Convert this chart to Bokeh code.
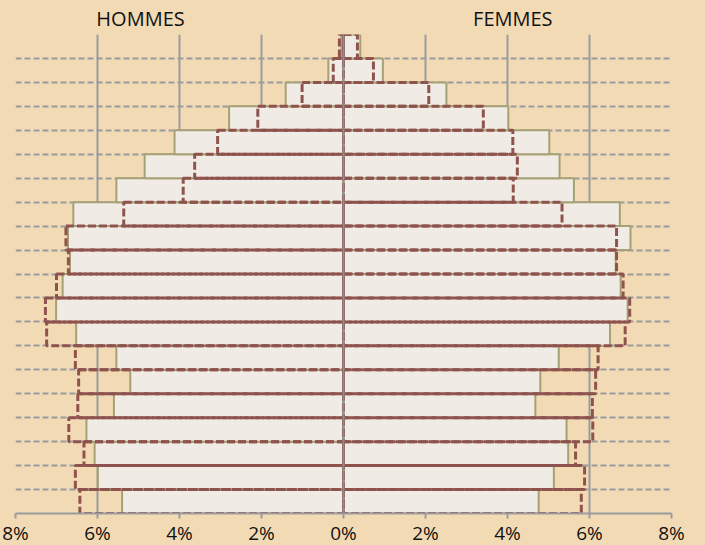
from bokeh.plotting import figure
from bokeh.models import ColumnDataSource, FixedTicker, Span, LinearAxis
from bokeh.embed import file_html
from bokeh.resources import INLINE

# Age groups, bottom (youngest) to top (oldest)
ages = ["0-4", "5-9", "10-14", "15-19", "20-24", "25-29", "30-34", "35-39",
        "40-44", "45-49", "50-54", "55-59", "60-64", "65-69", "70-74",
        "75-79", "80-84", "85-89", "90-94", "95-99"]

# Filled series (percent of population)
hommes_a = [5.40, 5.99, 6.07, 6.27, 5.60, 5.20, 5.54, 6.52, 7.01, 6.85,
            6.67, 6.72, 6.59, 5.54, 4.85, 4.12, 2.79, 1.41, 0.37, 0.05]
femmes_a = [4.76, 5.13, 5.48, 5.44, 4.68, 4.80, 5.25, 6.50, 6.93, 6.76,
            6.64, 7.00, 6.74, 5.62, 5.27, 5.02, 4.02, 2.51, 0.96, 0.41]

# Dashed-outline series (percent of population)
hommes_b = [6.43, 6.54, 6.33, 6.70, 6.48, 6.46, 6.54, 7.24, 7.27, 7.00,
            6.71, 6.77, 5.36, 3.91, 3.63, 3.07, 2.09, 1.01, 0.25, 0.10]
femmes_b = [5.80, 5.88, 5.66, 6.08, 6.07, 6.15, 6.21, 6.87, 6.98, 6.82,
            6.66, 6.66, 5.33, 4.14, 4.24, 4.13, 3.41, 2.08, 0.73, 0.34]

tick_values = [-8, -6, -4, -2, 0, 2, 4, 6, 8]
tick_labels = ["8%", "6%", "4%", "2%", "0%", "2%", "4%", "6%", "8%"]

side_titles = ["HOMMES", "FEMMES"]
side_title_pos = [-4.95, 4.13]

BG = "#F2DBB4"
FILL = "#F0ECE5"
OLIVE = "#A6A174"
BROWN = "#8F534E"
GRID = "#9A9A9F"

ypos = [i + 0.5 for i in range(len(ages))]
src = ColumnDataSource(dict(
    y=ypos,
    ha_left=[-v for v in hommes_a], fa_right=femmes_a,
    hb_left=[-v for v in hommes_b], fb_right=femmes_b,
    zero=[0] * len(ages),
))

p = figure(frame_width=656, frame_height=479, x_range=(-8, 8), y_range=(0, len(ages)),
           output_backend="svg", toolbar_location=None,
           min_border_left=15, min_border_right=34, min_border_top=34, min_border_bottom=0)
p.background_fill_color = BG
p.border_fill_color = BG
p.outline_line_color = None

# grids
p.xgrid.ticker = FixedTicker(ticks=tick_values)
p.xgrid.grid_line_color = GRID
p.xgrid.grid_line_width = 2
p.ygrid.ticker = FixedTicker(ticks=list(range(len(ages) + 1)))
p.ygrid.grid_line_color = GRID
p.ygrid.grid_line_width = 2
p.ygrid.grid_line_dash = "6 3"

# filled bars
p.hbar(y="y", height=1, left="ha_left", right="zero", source=src,
       fill_color=FILL, line_color=OLIVE, line_width=2)
p.hbar(y="y", height=1, left="zero", right="fa_right", source=src,
       fill_color=FILL, line_color=OLIVE, line_width=2)
# dashed bars
p.hbar(y="y", height=1, left="hb_left", right="zero", source=src,
       fill_color=None, line_color=BROWN, line_width=3, line_dash="8 3")
p.hbar(y="y", height=1, left="zero", right="fb_right", source=src,
       fill_color=None, line_color=BROWN, line_width=3, line_dash="8 3")

p.add_layout(Span(location=0, dimension="height", line_color="#8E8E92",
                  line_width=2, level="overlay"))

# axes
p.yaxis.visible = False
ax = p.xaxis[0]
ax.ticker = FixedTicker(ticks=tick_values)
ax.major_label_overrides = {v: l for v, l in zip(tick_values, tick_labels)}
ax.axis_line_color = GRID
ax.axis_line_width = 2
ax.major_tick_line_color = GRID
ax.major_tick_line_width = 2
ax.major_tick_in = 0
ax.major_tick_out = 5
ax.minor_tick_line_color = None
ax.major_label_standoff = 1
ax.major_label_text_font = "Open Sans"
ax.major_label_text_font_size = "19px"
ax.major_label_text_color = "#111111"

top = LinearAxis(ticker=FixedTicker(ticks=side_title_pos),
                 major_label_overrides={v: t for v, t in zip(side_title_pos, side_titles)})
top.axis_line_color = None
top.major_tick_line_color = None
top.minor_tick_line_color = None
top.major_tick_in = 0
top.major_tick_out = 0
top.major_label_standoff = 3
top.major_label_text_font = "Open Sans"
top.major_label_text_font_size = "20px"
top.major_label_text_color = "#111111"
p.add_layout(top, "above")

html = file_html(p, INLINE)
html = html.replace("</head>", "<style>html,body{background:%s;overflow:hidden;}</style></head>" % BG, 1)
open("out.html", "w").write(html)
